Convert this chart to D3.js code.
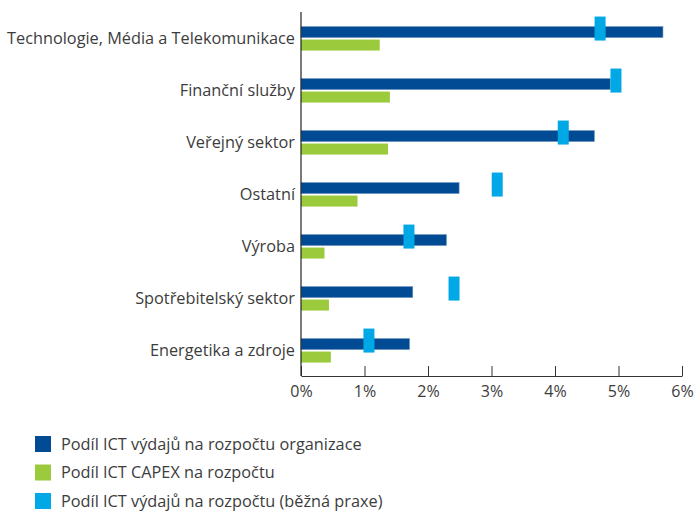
<!DOCTYPE html>
<html>
<head>
<meta charset="utf-8">
<script src="https://cdn.jsdelivr.net/npm/d3@7"></script>
<style>
  body { margin: 0; background: #fff; }
  text { font-family: "Open Sans", "Noto Sans", sans-serif; fill: #3c3c3c; }
</style>
</head>
<body>
<div id="chart"></div>
<script>
var darkColor = "#004b93";
var greenColor = "#9bca3c";
var lightColor = "#00a9e6";

// podíl v %: organizace, capex, běžná praxe
var data = [
    {name: "Technologie, Média a Telekomunikace", org: 5.70, capex: 1.24, praxe: 4.71},
    {name: "Finanční služby", org: 4.87, capex: 1.40, praxe: 4.96},
    {name: "Veřejný sektor", org: 4.62, capex: 1.37, praxe: 4.13},
    {name: "Ostatní", org: 2.49, capex: 0.89, praxe: 3.09},
    {name: "Výroba", org: 2.29, capex: 0.37, praxe: 1.70},
    {name: "Spotřebitelský sektor", org: 1.76, capex: 0.44, praxe: 2.41},
    {name: "Energetika a zdroje", org: 1.71, capex: 0.47, praxe: 1.07}
];

var width = 697, height = 513;
var mLeft = 301, mRight = 682, mTop = 12, mBottom = 376;

var svg = d3.select("#chart").append("svg")
    .attr("width", width)
    .attr("height", height);

var x = d3.scaleLinear().domain([0, 6]).range([mLeft, mRight]);
var y = d3.scaleBand().domain(data.map(d => d.name)).range([mTop, mBottom]);
var bw = y.bandwidth();

var groups = svg.append("g").selectAll("g").data(data).enter().append("g")
    .attr("transform", d => "translate(0," + y(d.name) + ")");

groups.append("rect")
    .attr("x", x(0))
    .attr("y", bw * 0.28)
    .attr("width", d => x(d.org) - x(0))
    .attr("height", 11)
    .attr("fill", darkColor)
    .attr("stroke", "#6f93bd")
    .attr("stroke-width", 0.6);

groups.append("rect")
    .attr("x", x(0))
    .attr("y", bw * 0.28 + 13)
    .attr("width", d => x(d.capex) - x(0))
    .attr("height", 11)
    .attr("fill", greenColor);

groups.append("rect")
    .attr("x", d => x(d.praxe) - 5.5)
    .attr("y", bw * 0.28 - 10)
    .attr("width", 11)
    .attr("height", 24)
    .attr("fill", lightColor);

groups.append("text")
    .attr("x", mLeft - 6)
    .attr("y", bw * 0.28 + 12)
    .attr("dy", "0.35em")
    .attr("text-anchor", "end")
    .style("font-size", "16.3px")
    .text(d => d.name);

// osa x
var xAxis = d3.axisBottom(x)
    .ticks(6)
    .tickSizeInner(-10)
    .tickSizeOuter(0)
    .tickPadding(10)
    .tickFormat(d => d + "%");

var ax = svg.append("g")
    .attr("transform", "translate(0," + mBottom + ")")
    .call(xAxis);
ax.select(".domain").attr("stroke", "#333");
ax.selectAll(".tick line").attr("stroke", "#333");
ax.selectAll("text").style("font-size", "16px").style("font-family", "\"Open Sans\", \"Noto Sans\", sans-serif").attr("fill", "#3c3c3c");

svg.append("line")
    .attr("x1", mLeft).attr("x2", mLeft)
    .attr("y1", mTop).attr("y2", mBottom)
    .attr("stroke", "#222")
    .attr("stroke-width", 1.2);

// legenda
var legend = [
    {label: "Podíl ICT výdajů na rozpočtu organizace", color: darkColor},
    {label: "Podíl ICT CAPEX na rozpočtu", color: greenColor},
    {label: "Podíl ICT výdajů na rozpočtu (běžná praxe)", color: lightColor}
];

var lg = svg.append("g").selectAll("g").data(legend).enter().append("g")
    .attr("transform", (d, i) => "translate(35," + (444 + i * 28.5) + ")");

lg.append("rect")
    .attr("x", 0).attr("y", -8)
    .attr("width", 16).attr("height", 16)
    .attr("fill", d => d.color);

lg.append("text")
    .attr("x", 26)
    .attr("dy", "0.35em")
    .style("font-size", "16.3px")
    .text(d => d.label);
</script>
</body>
</html>
